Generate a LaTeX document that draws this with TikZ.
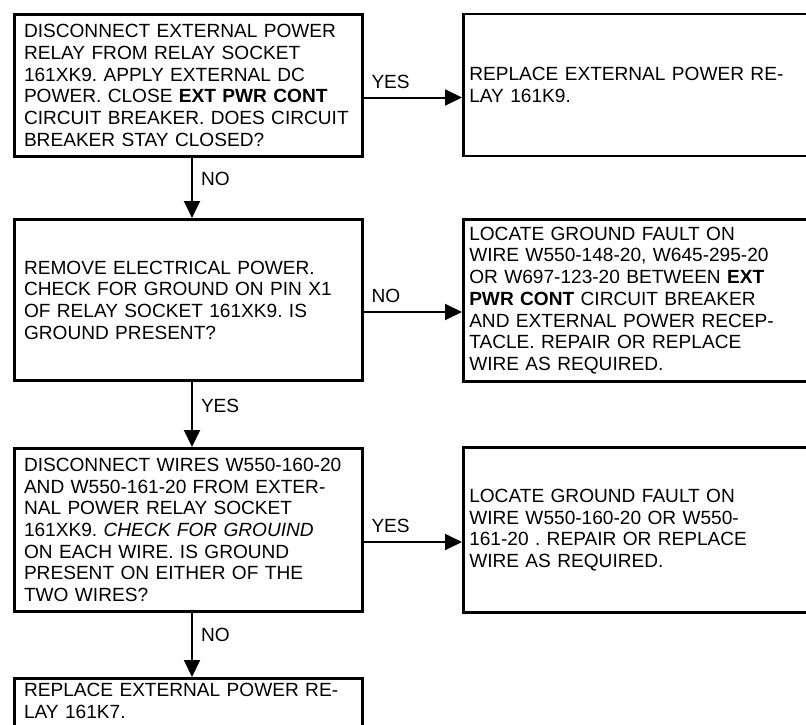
\documentclass[tikz,border=0pt]{standalone}
\usepackage{fontspec}
\setmainfont{Liberation Sans}
\usetikzlibrary{arrows.meta}
\frenchspacing

\begin{document}
\begin{tikzpicture}[
    x=1pt, y=-1pt,
    qbox/.style={rectangle, draw, line width=3pt, align=left, text width=328pt, inner xsep=10pt, inner ysep=4pt, font=\fontsize{19.1}{21.7}\selectfont},
    abox/.style={rectangle, draw, line width=2.5pt, align=left, text width=420pt, inner xsep=6pt, inner ysep=4pt, anchor=west, font=\fontsize{19.1}{21.7}\selectfont},
    lbl/.style={inner sep=3pt, font=\fontsize{19.1}{21.7}\selectfont},
    arrow/.style={-{Triangle[length=17pt,width=16pt]}, line width=2pt}
]
\useasboundingbox (0,0) rectangle (806,725);
\clip (0,0) rectangle (806,725);

\node[qbox, minimum height=142pt] (q1) at (188,85.5) {DISCONNECT EXTERNAL POWER\\RELAY FROM RELAY SOCKET\\161XK9. APPLY EXTERNAL DC\\POWER. CLOSE \textbf{EXT PWR CONT}\\CIRCUIT BREAKER. DOES CIRCUIT\\BREAKER STAY CLOSED?};
\node[abox, minimum height=142pt] (a1) at (462,85) {REPLACE EXTERNAL POWER RE-\\LAY 161K9.};
\node[qbox, minimum height=161pt] (q2) at (188,300) {REMOVE ELECTRICAL POWER.\\CHECK FOR GROUND ON PIN X1\\OF RELAY SOCKET 161XK9. IS\\GROUND PRESENT?};
\node[abox, minimum height=162pt] (a2) at (462,300.5) {LOCATE GROUND FAULT ON\\WIRE W550-148-20, W645-295-20\\OR W697-123-20 BETWEEN \textbf{EXT}\\\textbf{PWR CONT} CIRCUIT BREAKER\\AND EXTERNAL POWER RECEP-\\TACLE. REPAIR OR REPLACE\\WIRE AS REQUIRED.};
\node[qbox, minimum height=163pt] (q3) at (188,530) {DISCONNECT WIRES W550-160-20\\AND W550-161-20 FROM EXTER-\\NAL POWER RELAY SOCKET\\161XK9. \textit{CHECK FOR GROUIND}\\ON EACH WIRE. IS GROUND\\PRESENT ON EITHER OF THE\\TWO WIRES?};
\node[abox, minimum height=165pt] (a3) at (462,530) {LOCATE GROUND FAULT ON\\WIRE W550-160-20 OR W550-\\161-20 . REPAIR OR REPLACE\\WIRE AS REQUIRED.};
\node[qbox, anchor=north, inner ysep=5pt, text depth=40pt] (q4) at (188,677) {REPLACE EXTERNAL POWER RE-\\LAY 161K7.};

\draw[arrow] ([yshift=-12pt]q1.east) -- node[lbl, pos=0, anchor=south west, xshift=4pt, yshift=5pt] {YES} ([yshift=-12pt]q1.east -| a1.west);
\draw[arrow] ([xshift=4pt]q1.south) -- node[lbl, pos=.35, anchor=west, xshift=5pt] {NO} ([xshift=4pt]q2.north);
\draw[arrow] ([yshift=-12pt]q2.east) -- node[lbl, pos=0, anchor=south west, xshift=4pt, yshift=5pt] {NO} ([yshift=-12pt]q2.east -| a2.west);
\draw[arrow] ([xshift=4pt]q2.south) -- node[lbl, pos=.37, anchor=west, xshift=5pt] {YES} ([xshift=4pt]q3.north);
\draw[arrow] ([yshift=-12pt]q3.east) -- node[lbl, pos=0, anchor=south west, xshift=4pt, yshift=5pt] {YES} ([yshift=-12pt]q3.east -| a3.west);
\draw[arrow] ([xshift=4pt]q3.south) -- node[lbl, pos=.34, anchor=west, xshift=5pt] {NO} ([xshift=4pt]q4.north);
\end{tikzpicture}
\end{document}
